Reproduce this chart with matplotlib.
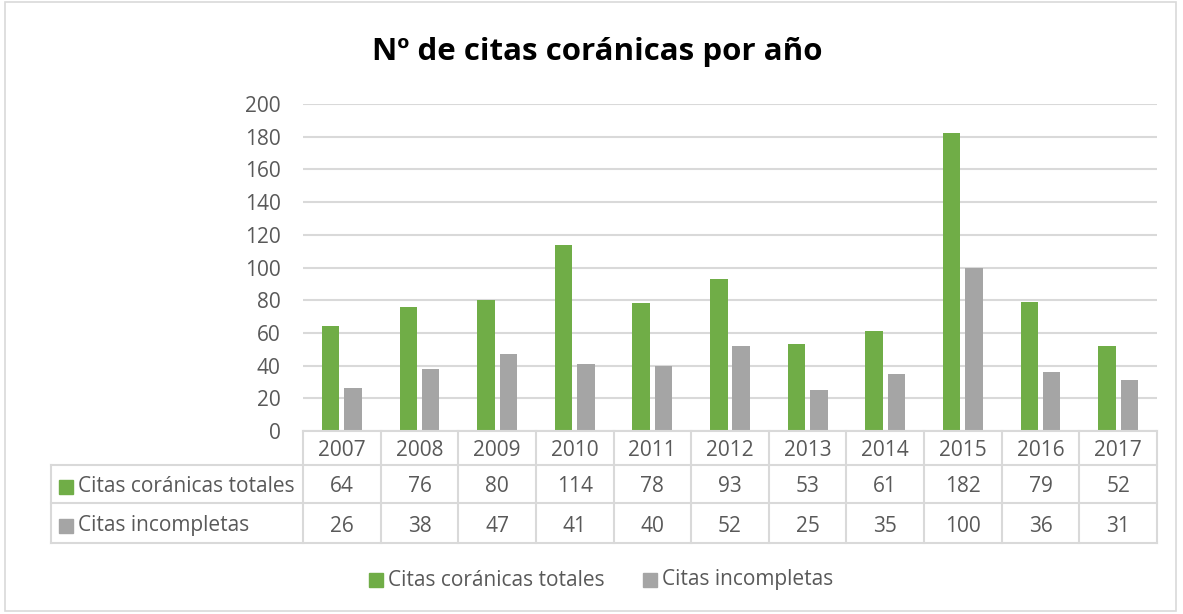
import matplotlib.pyplot as plt
import numpy as np
from matplotlib.patches import Rectangle

# data
years = ["2007", "2008", "2009", "2010", "2011", "2012", "2013", "2014", "2015", "2016", "2017"]
totales = [64, 76, 80, 114, 78, 93, 53, 61, 182, 79, 52]
incompletas = [26, 38, 47, 41, 40, 52, 25, 35, 100, 36, 31]
series_names = ["Citas coránicas totales", "Citas incompletas"]
colors = ["#70ad47", "#a5a5a5"]

plt.rcParams['font.family'] = ['Open Sans', 'DejaVu Sans']
W, H = 1183, 614
fig = plt.figure(figsize=(W / 100, H / 100), dpi=100)
txt = "#595959"
grid = "#d9d9d9"
fs = 15
dy = 3  # Open Sans sits a little high with va='center'

def fx(x):
    return x / W

def fy(y):
    return 1 - y / H

# outer border
fig.add_artist(Rectangle((fx(5), fy(611)), fx(1176) - fx(5), fy(2) - fy(611),
                         transform=fig.transFigure, fill=False, edgecolor=grid, lw=1.2))

x0, x1, y0, y1 = 303, 1157, 431, 104
ax = fig.add_axes([fx(x0), fy(y0), fx(x1) - fx(x0), fy(y1) - fy(y0)])
n = len(years)
x = np.arange(n)
bw = 0.225
ax.bar(x - bw / 2 - 0.032, totales, bw, color=colors[0], zorder=3)
ax.bar(x + bw / 2 + 0.032, incompletas, bw, color=colors[1], zorder=3)
ax.set_xlim(-0.5, n - 0.5)
ax.set_ylim(0, 200)
ax.set_yticks(range(0, 201, 20))
ax.tick_params(axis='y', length=0, labelsize=fs, labelcolor=txt, pad=16)
ax.set_xticks([])
ax.grid(axis='y', color=grid, lw=1.5, zorder=0)
for s in ax.spines.values():
    s.set_visible(False)

fig.text(fx(597), fy(52), "Nº de citas coránicas por año", ha='center', va='center',
         fontsize=22.5, fontweight='bold', color='black')

# data table
cw = (x1 - x0) / n
rows = [431, 465, 503, 543]
tl = 51
line_kw = dict(color=grid, lw=1.5, transform=fig.transFigure)
fig.add_artist(plt.Line2D([fx(x0), fx(x1)], [fy(rows[0])] * 2, **line_kw))
for r in rows[1:]:
    fig.add_artist(plt.Line2D([fx(tl), fx(x1)], [fy(r)] * 2, **line_kw))
fig.add_artist(plt.Line2D([fx(tl)] * 2, [fy(rows[1]), fy(rows[3])], **line_kw))
for i in range(n + 1):
    xi = x0 + i * cw
    fig.add_artist(plt.Line2D([fx(xi)] * 2, [fy(rows[0]), fy(rows[3])], **line_kw))

for i, yr in enumerate(years):
    cx = x0 + (i + 0.5) * cw
    fig.text(fx(cx), fy((rows[0] + rows[1]) / 2 + dy), yr, ha='center', va='center', fontsize=fs, color=txt)
    fig.text(fx(cx), fy((rows[1] + rows[2]) / 2 + dy), str(totales[i]), ha='center', va='center', fontsize=fs, color=txt)
    fig.text(fx(cx), fy((rows[2] + rows[3]) / 2 + dy), str(incompletas[i]), ha='center', va='center', fontsize=fs, color=txt)

for k, (name, col) in enumerate(zip(series_names, colors)):
    yc = (rows[k + 1] + rows[k + 2]) / 2 + dy
    fig.add_artist(Rectangle((fx(59), fy(yc + 7)), fx(14), fy(0) - fy(14),
                             transform=fig.transFigure, color=col))
    fig.text(fx(78), fy(yc), name, ha='left', va='center', fontsize=fs, color=txt)

# legend
leg_y = 580
for lx, name, col in [(369, series_names[0], colors[0]), (643, series_names[1], colors[1])]:
    fig.add_artist(Rectangle((fx(lx), fy(leg_y + 7)), fx(14), fy(0) - fy(14),
                             transform=fig.transFigure, color=col))
    fig.text(fx(lx + 19), fy(leg_y), name, ha='left', va='center', fontsize=fs, color=txt)

fig.savefig("out.png", dpi=100)
